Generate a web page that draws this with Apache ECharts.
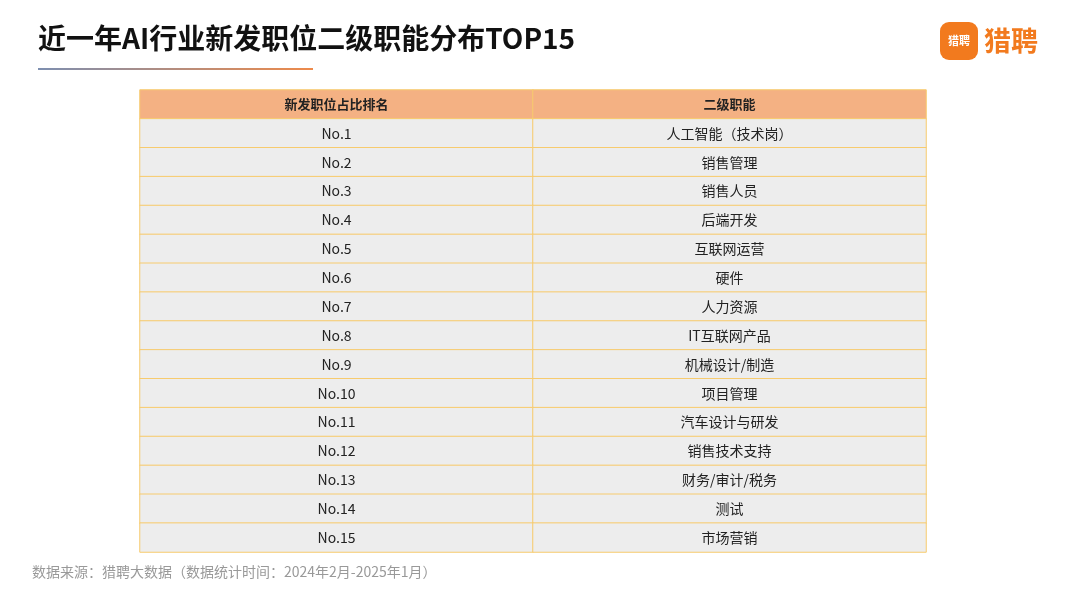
<!DOCTYPE html>
<html><head><meta charset="utf-8">
<script src="https://cdn.jsdelivr.net/npm/echarts@6/dist/echarts.min.js"></script>
<style>html,body{margin:0;background:#fff}#c{width:1080px;height:608px}</style>
</head><body><div id="c"></div>
<script>
const headers = ['新发职位占比排名', '二级职能'];
const ranks = ['No.1','No.2','No.3','No.4','No.5','No.6','No.7','No.8','No.9','No.10','No.11','No.12','No.13','No.14','No.15'];
const functions = ['人工智能（技术岗）','销售管理','销售人员','后端开发','互联网运营','硬件','人力资源','IT互联网产品','机械设计/制造','项目管理','汽车设计与研发','销售技术支持','财务/审计/税务','测试','市场营销'];

const rows = ['h'].concat(ranks);
const data = [];
headers.forEach((h, x) => data.push({value: [x, 0, 0], name: h, label: {fontWeight: 'bold', fontSize: 13}}));
ranks.forEach((r, i) => {
  data.push({value: [0, i + 1, 1], name: r});
  data.push({value: [1, i + 1, 1], name: functions[i]});
});
const font = '"Noto Sans CJK SC", "Noto Sans", sans-serif';
const chart = echarts.init(document.getElementById('c'));
chart.setOption({
  backgroundColor: '#fff',
  textStyle: {fontFamily: font},
  grid: {left: 140, right: 154, top: 90, bottom: 56},
  xAxis: {type: 'category', data: [0, 1], show: false},
  yAxis: {type: 'category', data: rows, inverse: true, show: false},
  visualMap: {type: 'piecewise', show: false, dimension: 2,
    pieces: [{value: 0, color: '#F4B183'}, {value: 1, color: '#EDEDED'}]},
  series: [{
    type: 'heatmap', data: data,
    itemStyle: {borderColor: '#F7CB6E', borderWidth: 1},
    label: {show: true, formatter: p => p.name, color: '#222', fontSize: 14, fontFamily: font},
    emphasis: {disabled: true}
  }],
  graphic: [
    {type: 'text', left: 38, top: 24, style: {text: '近一年AI行业新发职位二级职能分布TOP15', fontSize: 28, fontWeight: 'bold', fill: '#111', fontFamily: font}},
    {type: 'rect', shape: {x: 38, y: 68, width: 275, height: 2},
      style: {fill: new echarts.graphic.LinearGradient(0, 0, 1, 0, [{offset: 0, color: '#7D8FB0'}, {offset: 1, color: '#EE8A4A'}])}},
    {type: 'rect', shape: {x: 940, y: 22, width: 38, height: 38, r: 9}, style: {fill: '#F27A1E'}},
    {type: 'text', x: 959, y: 41, style: {text: '猎聘', fontSize: 11, fill: '#fff', align: 'center', verticalAlign: 'middle', fontFamily: font, fontWeight: 'bold'}},
    {type: 'text', x: 984, y: 41, style: {text: '猎聘', fontSize: 27, fill: '#F27A1E', verticalAlign: 'middle', fontFamily: font, fontWeight: 'bold'}},
    {type: 'text', left: 32, top: 565, style: {text: '数据来源：猎聘大数据（数据统计时间：2024年2月-2025年1月）', fontSize: 14, fill: '#999', fontFamily: font}}
  ]
});
</script></body></html>
